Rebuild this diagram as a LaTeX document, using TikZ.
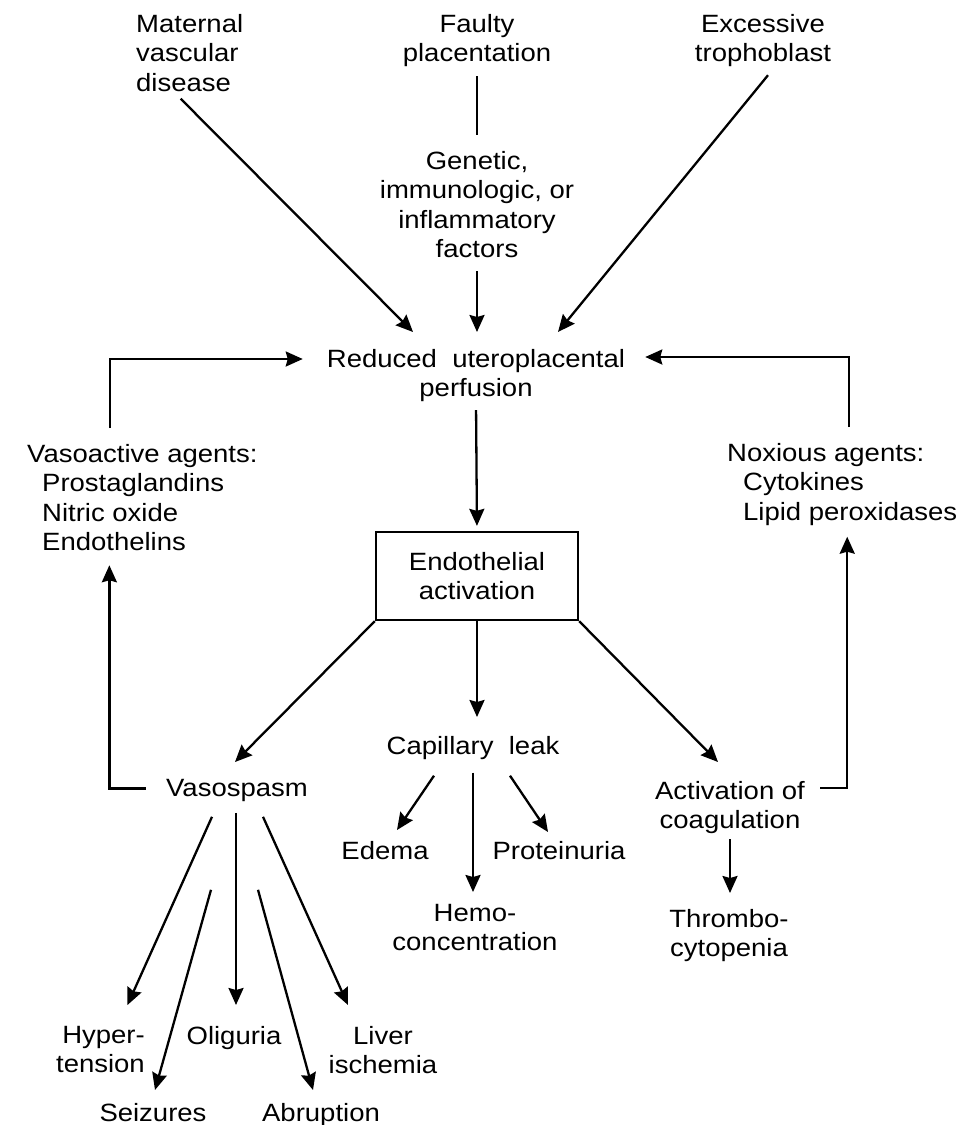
\documentclass[tikz,border=0pt]{standalone}
\usepackage{fontspec}
\setmainfont[FakeStretch=1.1]{Liberation Sans}
\usepackage{tikz}
\usetikzlibrary{calc}
\usetikzlibrary{arrows.meta,positioning}

\begin{document}
\begin{tikzpicture}[x=1pt,y=-1pt,
	every node/.style={font=\fontsize{25}{29.5}\selectfont,inner sep=0pt,align=center},
	arr/.style={-{Stealth[length=17pt,width=15pt,inset=2pt]},line width=2.3pt},
	ln/.style={line width=2.3pt}]
	\useasboundingbox (0,0) rectangle (980,1125);
	\node[anchor=north west,align=left] (maternal) at (136,14) {Maternal\\vascular\\disease};
	\node[anchor=north] (faulty) at (477,14) {Faulty\\placentation};
	\node[anchor=north] (excessive) at (763,14) {Excessive\\trophoblast};
	\node[anchor=north] (factors) at (477,151) {Genetic,\\immunologic, or\\inflammatory\\factors};
	\node[anchor=north] (reduced) at (476,349) {Reduced\ \ uteroplacental\\perfusion};
	\node[draw,line width=2.3pt,minimum width=202pt,minimum height=88pt] (endo) at (477,576) {Endothelial\\activation};
	\node[anchor=north west,align=left] (vasoactive) at (27,444) {Vasoactive agents:\\\hspace*{15pt}Prostaglandins\\\hspace*{15pt}Nitric oxide\\\hspace*{15pt}Endothelins};
	\node[anchor=north west,align=left] (noxious) at (727,443) {Noxious agents:\\\hspace*{16pt}Cytokines\\\hspace*{16pt}Lipid peroxidases};
	\node[anchor=north] (vasospasm) at (237,779) {Vasospasm};
	\node[anchor=north] (capleak) at (473,736) {Capillary\ \ leak};
	\node[anchor=north] (coag) at (730,781) {Activation of\\coagulation};
	\node[anchor=north] (edema) at (385,841) {Edema};
	\node[anchor=north] (protein) at (559,841) {Proteinuria};
	\node[anchor=north] (hemo) at (475,904) {Hemo-\\concentration};
	\node[anchor=north] (thrombo) at (729,909) {Thrombo-\\cytopenia};
	\node[anchor=north east,align=right] (hyper) at (145,1026) {Hyper-\\tension};
	\node[anchor=north] (oliguria) at (234,1026) {Oliguria};
	\node[anchor=north] (liver) at (383,1026) {Liver\\ischemia};
	\node[anchor=north] (seizures) at (153,1103) {Seizures};
	\node[anchor=north] (abruption) at (321,1103) {Abruption};

	\draw[ln,shorten <=9pt,shorten >=16pt] (faulty) -- (faulty |- factors.north);
	\draw[arr,shorten <=13pt,shorten >=17pt] (factors.south) -- (factors.south |- reduced.north);
	\draw[arr] ($(maternal.south)+(-9,7)$) -- ($(reduced.north)+(-63,-17)$);
	\draw[arr] ($(excessive.south)+(5,8)$) -- ($(reduced.north)+(82,-17)$);
	\draw[arr] ($(vasoactive.north west)+(83,-16)$) |- ($(reduced.north west)+(-24,10)$);
	\draw[arr] ($(noxious.north west)+(122,-16)$) |- ($(reduced.north east)+(20,8)$);
	\draw[arr,shorten <=8pt,shorten >=5pt] (reduced.south) -- (endo.north);
	\draw[arr] (endo.south west) -- ($(vasospasm.north)+(-2,-17)$);
	\draw[arr,shorten >=19pt] (endo.south) -- (endo.south |- capleak.north);
	\draw[arr] (endo.south east) -- ($(coag.north)+(-12,-19)$);
	\draw[arr] ($(vasospasm.west)+(-20,-2)$) -| ($(vasoactive.south)+(-33,14)$);
	\draw[arr] ($(coag.north east)+(15,7)$) -| ($(noxious.south)+(5,11)$);
	\draw[arr] ($(capleak.south)+(-39,16)$) -- ($(edema.north)+(12,-11)$);
	\draw[arr,shorten <=13pt,shorten >=12pt] (capleak.south) -- (capleak.south |- hemo.north);
	\draw[arr] ($(capleak.south)+(37,16)$) -- ($(protein.north)+(-11,-9)$);
	\draw[arr,shorten <=5pt,shorten >=16pt] (coag.south) -- (coag.south |- thrombo.north);
	\draw[arr] ($(vasospasm.south)+(-25,15)$) -- ($(hyper.north)+(27,-21)$);
	\draw[arr] ($(vasospasm.south)+(-1,11)$) -- ($(oliguria.north)+(2,-21)$);
	\draw[arr] ($(vasospasm.south)+(26,15)$) -- ($(liver.north)+(-35,-21)$);
	\draw[arr] ($(vasospasm.south)+(-26,88)$) -- ($(seizures.north)+(2,-13)$);
	\draw[arr] ($(vasospasm.south)+(21,88)$) -- ($(abruption.north)+(-8,-13)$);
\end{tikzpicture}
\end{document}
